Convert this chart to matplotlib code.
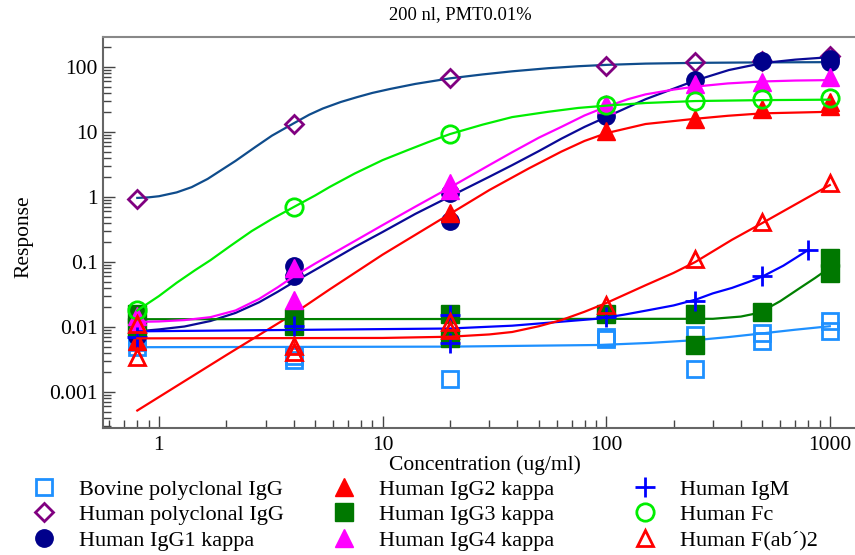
import numpy as np
import matplotlib
matplotlib.use("Agg")
import matplotlib.pyplot as plt
from matplotlib.ticker import LogLocator, NullFormatter

plt.rcParams['font.family'] = ['Liberation Serif', 'DejaVu Serif']

# ---- data ----
bovine_x = [0.8, 0.8, 4, 4, 20, 100, 100, 250, 250, 500, 500, 1000, 1000]
bovine_y = [0.0058, 0.0050, 0.0036, 0.0031, 0.0016, 0.0071, 0.0065, 0.0075, 0.0023, 0.0080, 0.0060, 0.0122, 0.0088]
bovine_fit_x = [0.8, 20, 93, 156, 252, 350, 500, 700, 1000]
bovine_fit_y = [0.0049, 0.0050, 0.0053, 0.0057, 0.0063, 0.0070, 0.0080, 0.0091, 0.0103]

hpoly_x = [0.8, 4, 20, 100, 250, 500, 1000]
hpoly_y = [0.95, 13.3, 68, 104, 118, 122, 150]
hpoly_fit_x = [0.8, 0.9, 1.0, 1.2, 1.4, 1.65, 1.9, 2.2, 2.7, 3.2, 4.0, 4.7, 5.4, 6.5, 7.7, 9, 10.8,
               14, 20, 28, 38, 55, 75, 100, 150, 250, 500, 1000]
hpoly_fit_y = [0.97, 0.99, 1.03, 1.18, 1.42, 1.9, 2.6, 3.6, 5.9, 8.8, 13.6, 18.5, 23, 29, 34.5, 40, 46,
               55, 67, 77, 86, 96, 103, 108, 113, 116, 118, 119]

igg1_x = [0.8, 0.8, 4, 4, 20, 20, 100, 250, 500, 1000, 1000]
igg1_y = [0.0085, 0.0072, 0.088, 0.060, 1.15, 0.43, 17.6, 64, 123, 135, 120]
igg1_fit_x = [0.8, 1.0, 1.3, 1.7, 2.2, 2.8, 3.4, 4, 5, 5.8, 7.5, 10, 14, 20, 30, 38, 50, 63, 80,
              100, 150, 250, 354, 500, 700, 1000]
igg1_fit_y = [0.0086, 0.0092, 0.0102, 0.0124, 0.0165, 0.024, 0.035, 0.049, 0.076, 0.102, 0.17, 0.29,
              0.55, 1.02, 2.05, 3.1, 5.1, 7.9, 12, 17, 32, 62, 90, 115, 130, 142]

igg2_x = [0.8, 4, 20, 100, 250, 500, 1000, 1000]
igg2_y = [0.0060, 0.019, 0.57, 10.2, 15.8, 22.6, 29, 25]
igg2_fit_x = [0.8, 2, 4, 5.8, 10, 20, 30, 45, 63, 80, 100, 150, 250, 350, 500, 1000]
igg2_fit_y = [0.00052, 0.0037, 0.016, 0.038, 0.13, 0.55, 1.28, 2.75, 5.0, 7.3, 9.6, 13.3, 16.0, 17.8, 19.4, 20.5]

igg3_x = [0.8, 0.8, 4, 4, 20, 20, 100, 250, 250, 500, 1000, 1000]
igg3_y = [0.016, 0.010, 0.0137, 0.0105, 0.016, 0.0068, 0.016, 0.0159, 0.0053, 0.0171, 0.115, 0.068]
igg3_fit_x = [0.8, 300, 400, 460, 520, 600, 736, 860, 1000]
igg3_fit_y = [0.0132, 0.0134, 0.0145, 0.016, 0.019, 0.025, 0.040, 0.057, 0.082]

igg4_x = [0.8, 0.8, 4, 4, 20, 20, 100, 250, 500, 1000]
igg4_y = [0.015, 0.0115, 0.080, 0.026, 1.65, 1.3, 27, 55, 58, 70]
igg4_fit_x = [0.8, 1.0, 1.3, 1.7, 2.2, 2.8, 3.4, 4, 5, 5.8, 7.5, 10, 14, 20, 30, 38, 50, 63, 80,
              100, 125, 150, 200, 250, 350, 500, 700, 1000]
igg4_fit_y = [0.0120, 0.0122, 0.0128, 0.0142, 0.018, 0.027, 0.041, 0.060, 0.095, 0.127, 0.21, 0.37,
              0.71, 1.40, 3.1, 4.9, 8.2, 12, 18, 24.5, 32, 38, 45, 50, 56, 60, 62, 63]

igm_x = [0.8, 4, 20, 20, 100, 250, 500, 800]
igm_y = [0.0070, 0.0104, 0.0155, 0.0057, 0.0143, 0.025, 0.060, 0.153]
igm_fit_x = [0.8, 20, 38, 93, 120, 156, 200, 252, 300, 365, 430, 500, 620, 800]
igm_fit_y = [0.0086, 0.0095, 0.0105, 0.0135, 0.0155, 0.0183, 0.0215, 0.0265, 0.033, 0.040, 0.049,
             0.060, 0.088, 0.153]

fc_x = [0.8, 4, 20, 100, 250, 500, 1000]
fc_y = [0.018, 0.70, 9.3, 26, 30, 32, 33]
fc_fit_x = [0.8, 1.0, 1.2, 1.45, 1.7, 2.1, 2.6, 3.2, 4, 5, 5.8, 7.5, 10, 13, 16, 20, 28, 38, 55, 75,
            100, 150, 250, 500, 1000]
fc_fit_y = [0.018, 0.030, 0.048, 0.075, 0.107, 0.18, 0.30, 0.46, 0.70, 1.06, 1.43, 2.3, 3.7, 5.3, 7.0,
            9.3, 13, 17, 20.5, 23.5, 25.5, 28, 30, 31, 31.5]

fab_x = [0.8, 0.8, 4, 4, 20, 20, 100, 250, 500, 1000]
fab_y = [0.0113, 0.0035, 0.0052, 0.0042, 0.0118, 0.0090, 0.022, 0.111, 0.41, 1.65]
fab_fit_x = [0.8, 10, 20, 30, 38, 50, 63, 80, 100, 150, 200, 250, 365, 500, 1000]
fab_fit_y = [0.0067, 0.0068, 0.0071, 0.0077, 0.0084, 0.0103, 0.0128, 0.0172, 0.0234, 0.044, 0.068,
             0.10, 0.22, 0.40, 1.53]

labels = ['Bovine polyclonal IgG', 'Human polyclonal IgG', 'Human IgG1 kappa',
          'Human IgG2 kappa', 'Human IgG3 kappa', 'Human IgG4 kappa',
          'Human IgM', 'Human Fc', 'Human F(ab\u00b4)2']

y_ticks = [0.001, 0.01, 0.1, 1, 10, 100]
y_tick_labels = ['0.001', '0.01', '0.1', '1', '10', '100']
x_ticks = [1, 10, 100, 1000]
x_tick_labels = ['1', '10', '100', '1000']

# ---- figure ----
W, H = 855, 555
fig = plt.figure(figsize=(W / 100, H / 100), dpi=100)
ax = fig.add_axes([103 / W, 1 - 428 / H, (W - 103) / W, (428 - 37) / H])
ax.set_xscale('log')
ax.set_yscale('log')

series = [
    (bovine_x, bovine_y, bovine_fit_x, bovine_fit_y, '#1e90ff', '#1e90ff', 's', False, 11.5),
    (hpoly_x, hpoly_y, hpoly_fit_x, hpoly_fit_y, '#0f4c8c', '#800080', 'D', False, 9),
    (igg1_x, igg1_y, igg1_fit_x, igg1_fit_y, '#0a0a96', '#00008b', 'o', True, 12.5),
    (igg2_x, igg2_y, igg2_fit_x, igg2_fit_y, '#ff0000', '#ff0000', '^', True, 12.5),
    (igg3_x, igg3_y, igg3_fit_x, igg3_fit_y, '#008000', '#007800', 's', True, 12.5),
    (igg4_x, igg4_y, igg4_fit_x, igg4_fit_y, '#ff00ff', '#ff00ff', '^', True, 12.5),
    (igm_x, igm_y, igm_fit_x, igm_fit_y, '#0000ff', '#0000ff', '+', False, 15),
    (fc_x, fc_y, fc_fit_x, fc_fit_y, '#00ee00', '#00ee00', 'o', False, 12.5),
    (fab_x, fab_y, fab_fit_x, fab_fit_y, '#ff0000', '#ff0000', '^', False, 11.5),
]

handles = []
for x, y, fx, fy, lc, mc, m, filled, ms in series:
    ax.plot(fx, fy, color=lc, lw=1.6, solid_joinstyle='round')
    if filled:
        h, = ax.plot(x, y, ls='none', marker=m, ms=ms, mfc=mc, mec=mc, mew=1)
    else:
        h, = ax.plot(x, y, ls='none', marker=m, ms=ms, mfc='none', mec=mc, mew=2)
    handles.append(h)

x_right = 10 ** ((W - 159) / 223.6)
ax.set_xlim(0.562, x_right)
ax.set_ylim(0.00028, 290)

ax.set_xticks(x_ticks)
ax.set_xticklabels(x_tick_labels)
ax.set_yticks(y_ticks)
ax.set_yticklabels(y_tick_labels)
ax.xaxis.set_minor_locator(LogLocator(base=10, subs=np.arange(2, 10)))
ax.yaxis.set_minor_locator(LogLocator(base=10, subs=np.arange(2, 10), numticks=20))
ax.xaxis.set_minor_formatter(NullFormatter())
ax.yaxis.set_minor_formatter(NullFormatter())

ax.tick_params(which='both', direction='in', colors='#444444', labelcolor='black',
               labelsize=15.5, top=False, right=False)
ax.tick_params(which='major', length=8.5, width=1)
ax.tick_params(which='minor', length=6, width=1)
ax.tick_params(axis='x', pad=6)
ax.tick_params(axis='y', pad=4)

ax.spines['right'].set_visible(False)
ax.spines['top'].set_color('#888888')
ax.spines['left'].set_color('#666666')
ax.spines['bottom'].set_color('#666666')
for s in ['top', 'left', 'bottom']:
    ax.spines[s].set_linewidth(1.5)

fig.text(460 / W, 1 - 15 / H, '200 nl, PMT0.01%', ha='center', va='center', fontsize=13.3)
fig.text(485 / W, 1 - 465 / H, 'Concentration (ug/ml)', ha='center', va='center', fontsize=15.5)
fig.text(24 / W, 1 - 237 / H, 'Response', ha='center', va='center', rotation=90, fontsize=15.5)

# legend: three columns placed under the axes
col_left = [33, 333, 634]
for c in range(3):
    fig.legend(handles[c * 3:c * 3 + 3], labels[c * 3:c * 3 + 3],
               loc='upper left', bbox_to_anchor=(col_left[c] / W, 1 - 479 / H),
               frameon=False, fontsize=16, handlelength=1.0, handletextpad=1.05,
               borderpad=0, borderaxespad=0, labelspacing=0.23)

fig.savefig('out.png', dpi=100)
